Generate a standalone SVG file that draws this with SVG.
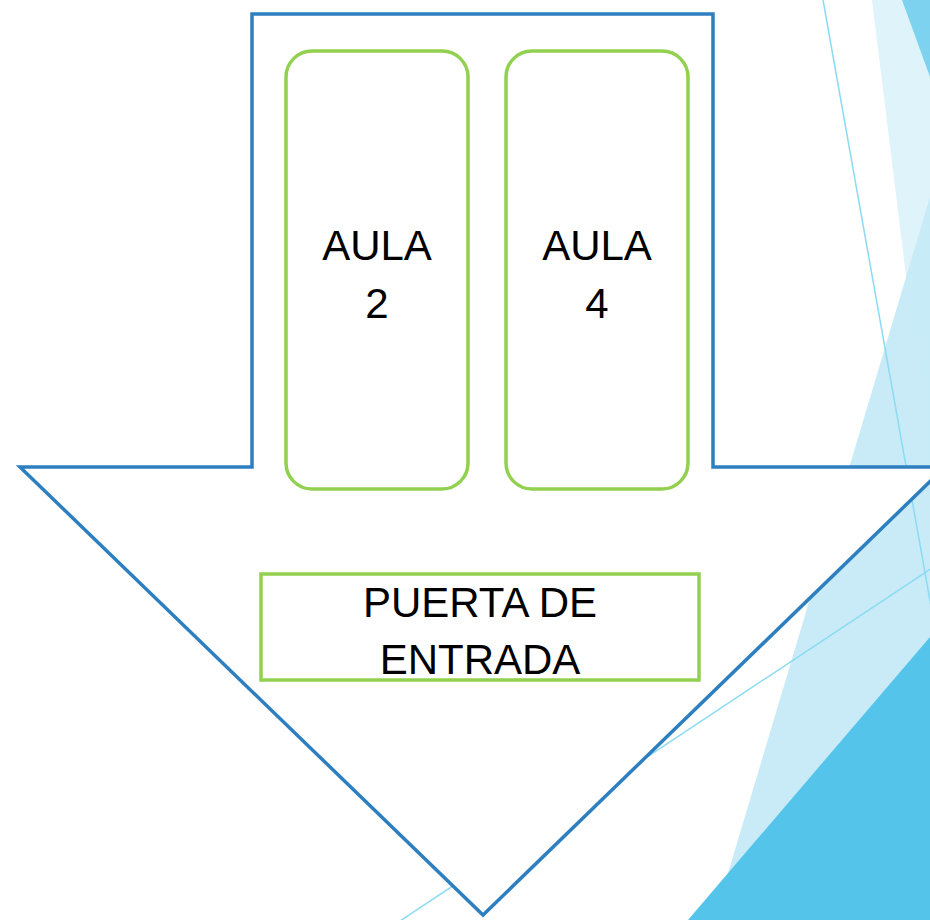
<svg xmlns="http://www.w3.org/2000/svg" width="930" height="920" viewBox="0 0 930 920">
<style>
.lbl{font-family:"Liberation Sans","DejaVu Sans",sans-serif;font-size:42px;fill:#000;text-anchor:middle}
.box{fill:#fff;stroke:#92d050;stroke-width:3.5}
</style>
<rect width="930" height="920" fill="#fff"/>
<g id="background">
<polygon points="872,0 930,0 930,470" fill="#c5eaf7" opacity="0.55"/>
<polygon points="930,197 714,920 930,920" fill="#c5eaf7" opacity="0.95"/>
<polygon points="902,0 930,0 930,77" fill="#7dd3ef"/>
<polygon points="930,637 688,920 930,920" fill="#55c4ea"/>
<line x1="823" y1="0" x2="932" y2="612" stroke="#8adbf3" stroke-width="1.5"/>
<line x1="932" y1="568" x2="400" y2="921" stroke="#8adbf3" stroke-width="1.5"/>
</g>
<g id="arrow">
<path d="M252,14 H713 V467 H945 L483,915 L20,467 H252 Z" fill="#fff" stroke="#2e7fc0" stroke-width="3.5"/>
</g>
<g id="aula2">
<rect class="box" x="286" y="51" width="182" height="438" rx="26"/>
<text class="lbl" x="377" y="260">AULA</text>
<text class="lbl" x="377" y="318">2</text>
</g>
<g id="aula4">
<rect class="box" x="506" y="51" width="182" height="438" rx="26"/>
<text class="lbl" x="597" y="260">AULA</text>
<text class="lbl" x="597" y="318">4</text>
</g>
<g id="puerta">
<rect class="box" x="261" y="574" width="438" height="106"/>
<text class="lbl" x="480" y="617">PUERTA DE</text>
<text class="lbl" x="480" y="674">ENTRADA</text>
</g>
<g id="connectors"></g>
</svg>
